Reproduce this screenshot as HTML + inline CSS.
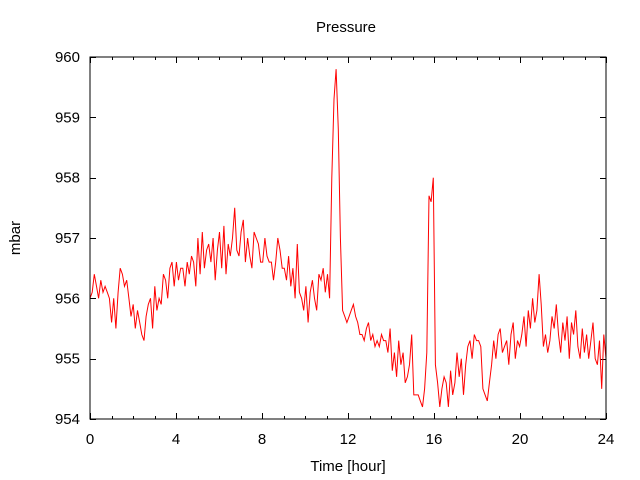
<!DOCTYPE html>
<html><head><meta charset="utf-8"><style>
body{margin:0;background:#fff}
svg{display:block;font-family:"Liberation Sans",sans-serif}
</style></head><body>
<svg id="chart" width="640" height="480">
<rect width="640" height="480" fill="#fff"/>
<text x="346" y="32" text-anchor="middle" font-size="15">Pressure</text>
<text x="348" y="471" text-anchor="middle" font-size="15">Time [hour]</text>
<text transform="translate(20,238) rotate(-90)" text-anchor="middle" font-size="15">mbar</text>
<g id="axes"></g>
<path id="series" fill="none" stroke="#f00" stroke-width="1"/>
<rect x="90" y="57" width="516" height="362" fill="none" stroke="#000"/>
</svg>
<script>
const xTicks=[0,4,8,12,16,20,24];
const yTicks=[954,955,956,957,958,959,960];
const step=0.1;
const pressure=[
956.0,956.1,956.4,956.2,956.0,956.3,956.1,956.2,956.1,956.0,
955.6,956.0,955.5,956.1,956.5,956.4,956.2,956.3,956.0,955.7,
955.9,955.5,955.8,955.6,955.4,955.3,955.7,955.9,956.0,955.5,
956.2,955.8,956.0,955.9,956.4,956.3,956.0,956.5,956.6,956.2,
956.6,956.3,956.5,956.5,956.2,956.6,956.4,956.7,956.6,956.2,
957.0,956.4,957.1,956.5,956.8,956.9,956.6,957.0,956.3,956.8,
957.1,956.5,957.2,956.4,956.9,956.7,957.0,957.5,956.8,956.7,
957.1,957.3,956.6,957.0,956.7,956.5,957.1,957.0,956.9,956.6,
956.6,957.0,956.7,956.6,956.6,956.3,956.6,957.0,956.8,956.5,
956.5,956.3,956.7,956.2,956.5,956.0,956.9,956.1,956.0,955.8,
956.2,955.6,956.1,956.3,956.0,955.8,956.4,956.3,956.5,956.1,
956.4,956.0,958.0,959.3,959.8,958.8,957.0,955.8,955.7,955.6,
955.7,955.8,955.9,955.7,955.6,955.4,955.4,955.3,955.5,955.6,
955.3,955.4,955.2,955.3,955.2,955.4,955.3,955.3,955.1,955.5,
954.8,955.1,954.7,955.3,954.9,955.1,954.6,954.7,954.9,955.4,
954.4,954.4,954.4,954.3,954.2,954.5,955.1,957.7,957.6,958.0,
954.9,954.6,954.2,954.5,954.7,954.6,954.2,954.8,954.4,954.6,
955.1,954.7,955.0,954.4,954.9,955.2,955.3,955.0,955.4,955.3,
955.3,955.2,954.5,954.4,954.3,954.6,954.9,955.3,955.0,955.4,
955.5,955.1,955.2,955.3,954.9,955.4,955.6,955.0,955.3,955.2,
955.4,955.7,955.2,955.8,955.5,956.0,955.6,955.8,956.4,955.9,
955.2,955.4,955.1,955.3,955.7,955.5,955.9,955.4,955.1,955.6,
955.3,955.7,955.0,955.6,955.4,955.8,955.2,955.0,955.5,955.1,
955.4,955.0,955.3,955.6,955.0,954.9,955.3,954.5,955.4,955.0];
const X0=90,X1=606,Y0=419,Y1=57;
const xs=v=>X0+(v-0)/(24-0)*(X1-X0);
const ys=v=>Y0-(v-954)/(960-954)*(Y0-Y1);
const NS="http://www.w3.org/2000/svg";
const axes=document.getElementById('axes');
function line(x1,y1,x2,y2,name){
  const l=document.createElementNS(NS,'line');
  l.setAttribute('x1',x1);l.setAttribute('y1',y1);l.setAttribute('x2',x2);l.setAttribute('y2',y2);
  l.setAttribute('stroke','#000');
  
  
  axes.appendChild(l);
}
function label(x,y,t,anchor,name){
  const e=document.createElementNS(NS,'text');
  e.setAttribute('x',x);e.setAttribute('y',y);e.setAttribute('text-anchor',anchor);e.setAttribute('font-size','15');
  e.textContent=t;
  
  
  axes.appendChild(e);
}
for(let h=0;h<=24;h++){
  const x=Math.round(xs(h))+0.5, major=h%4===0, len=major?6:3;
  line(x,Y0,x,Y0-len,'x-tick');
  line(x,Y1,x,Y1+len,'x-tick-top');
}
xTicks.forEach(v=>label(xs(v),444,String(v),'middle','x-tick-label'));
yTicks.forEach(v=>{
  const y=Math.round(ys(v))+0.5;
  line(X0,y,X0+6,y,'y-tick');
  line(X1,y,X1-6,y,'y-tick-right');
  label(80,ys(v)+5,String(v),'end','y-tick-label');
});
let d='';
pressure.forEach((v,i)=>{d+=(i?'L':'M')+xs(i*step*24/23.9).toFixed(1)+','+ys(v).toFixed(1);});
document.getElementById('series').setAttribute('d',d);
</script>
</body></html>
